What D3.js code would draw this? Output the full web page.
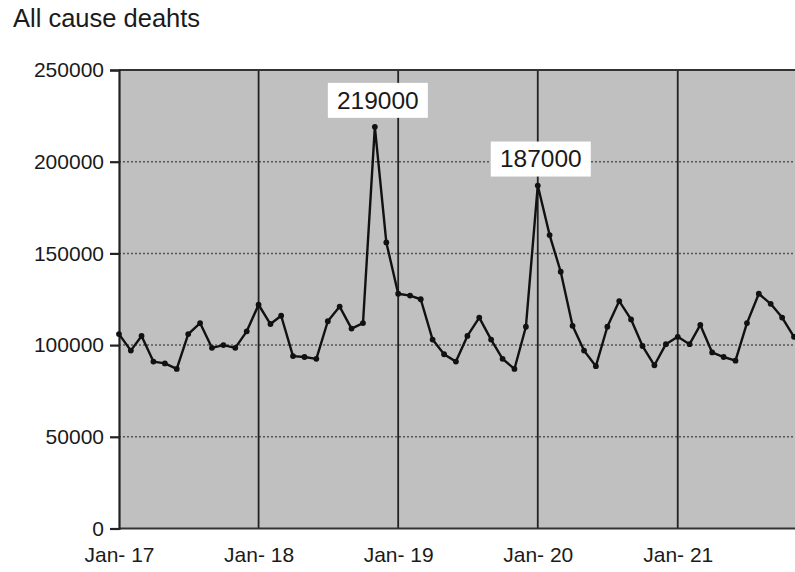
<!DOCTYPE html>
<html>
<head>
<meta charset="utf-8">
<script src="https://cdn.jsdelivr.net/npm/d3@7"></script>
<style>
  body { margin: 0; background: #fff; }
  text { font-family: "Liberation Sans", Arial, sans-serif; fill: #1a1a1a; }
</style>
</head>
<body>
<svg id="chart"></svg>
<script>
const width = 795;
const height = 572;

// monthly all cause deaths, Jan 2017 .. Nov 2021
const startMonth = new Date(2017, 0, 1);
const deaths = [
  106000, 97000, 105000, 91000, 90000, 87000, 106000, 112000, 98500, 100000, 98500, 107500,
  122000, 111500, 116000, 94000, 93500, 92500, 113000, 121000, 109000, 112000, 219000, 156000,
  128000, 127000, 125000, 103000, 95000, 91000, 105000, 115000, 103000, 92500, 87000, 110000,
  187000, 160000, 140000, 110500, 97000, 88500, 110000, 124000, 114000, 99500, 89000, 100500,
  104500, 100500, 111000, 96000, 93500, 91500, 112000, 128000, 122500, 115000, 104500
];
const yTicks = [0, 50000, 100000, 150000, 200000, 250000];
const yearTicks = [2017, 2018, 2019, 2020, 2021].map((y) => new Date(y, 0, 1));
const callouts = [219000, 187000];

const data = deaths.map((v, i) => ({ date: new Date(2017, i, 1), value: v }));

const margin = { top: 70, left: 119, bottom: 43.5 };
const svg = d3.select("#chart").attr("width", width).attr("height", height);

const x = d3.scaleTime()
  .domain([startMonth, data[data.length - 1].date])
  .range([margin.left, 794]);
const y = d3.scaleLinear().domain([0, 250000]).range([height - margin.bottom, margin.top]);

svg.append("text")
  .attr("x", 13)
  .attr("y", 27)
  .attr("font-size", 25.5)
  .text("All cause deahts");

// plot background
svg.append("rect")
  .attr("x", margin.left)
  .attr("y", y(250000))
  .attr("width", width - margin.left)
  .attr("height", y(0) - y(250000))
  .attr("fill", "#c0c0c0");

// dotted horizontal grid
svg.selectAll(".hgrid")
  .data(yTicks.filter((d) => d > 0 && d < 250000))
  .enter()
  .append("line")
  .attr("class", "hgrid")
  .attr("x1", margin.left)
  .attr("x2", width)
  .attr("y1", (d) => y(d))
  .attr("y2", (d) => y(d))
  .attr("stroke", "#555")
  .attr("stroke-width", 1.5)
  .attr("stroke-dasharray", "2,2");

// year lines
svg.selectAll(".vgrid")
  .data(yearTicks.slice(1))
  .enter()
  .append("line")
  .attr("class", "vgrid")
  .attr("x1", (d) => x(d))
  .attr("x2", (d) => x(d))
  .attr("y1", y(250000))
  .attr("y2", y(0))
  .attr("stroke", "#222")
  .attr("stroke-width", 1.8);

// top and bottom frame
[250000, 0].forEach((v) => {
  svg.append("line")
    .attr("x1", margin.left)
    .attr("x2", width)
    .attr("y1", y(v))
    .attr("y2", y(v))
    .attr("stroke", "#333")
    .attr("stroke-width", 1.8);
});

const yAxis = svg.append("g")
  .attr("transform", `translate(${margin.left},0)`)
  .call(d3.axisLeft(y).tickValues(yTicks).tickSize(9).tickPadding(6).tickFormat(d3.format("d")));
yAxis.select(".domain").attr("stroke", "#222").attr("stroke-width", 2.2);
yAxis.selectAll(".tick line").attr("stroke", "#222").attr("stroke-width", 2.2);
yAxis.selectAll(".tick text").attr("font-size", 21).attr("fill", "#1a1a1a")
  .attr("font-family", '"Liberation Sans", Arial, sans-serif');

const xAxis = svg.append("g")
  .attr("transform", `translate(0,${y(0)})`)
  .call(d3.axisBottom(x).tickValues(yearTicks).tickSize(0).tickPadding(19).tickFormat(d3.timeFormat("%b- %y")));
xAxis.select(".domain").remove();
xAxis.selectAll(".tick text").attr("font-size", 21).attr("fill", "#1a1a1a")
  .attr("font-family", '"Liberation Sans", Arial, sans-serif');

const line = d3.line().x((d) => x(d.date)).y((d) => y(d.value));

svg.append("path")
  .datum(data)
  .attr("fill", "none")
  .attr("stroke", "#111")
  .attr("stroke-width", 2.4)
  .attr("stroke-linejoin", "round")
  .attr("d", line);

svg.selectAll(".dot")
  .data(data)
  .enter()
  .append("circle")
  .attr("class", "dot")
  .attr("cx", (d) => x(d.date))
  .attr("cy", (d) => y(d.value))
  .attr("r", 2.9)
  .attr("fill", "#111");

// value callouts
const peaks = data.filter((d) => callouts.includes(d.value));
const label = svg.selectAll(".callout")
  .data(peaks)
  .enter()
  .append("g")
  .attr("class", "callout")
  .attr("transform", (d) => `translate(${x(d.date) + 3},${y(d.value) - 27})`);

label.append("rect")
  .attr("x", -50)
  .attr("y", -17)
  .attr("width", 100)
  .attr("height", 35)
  .attr("fill", "#fff");

label.append("text")
  .attr("text-anchor", "middle")
  .attr("dy", "0.36em")
  .attr("font-size", 24.5)
  .text((d) => d.value);
</script>
</body>
</html>
